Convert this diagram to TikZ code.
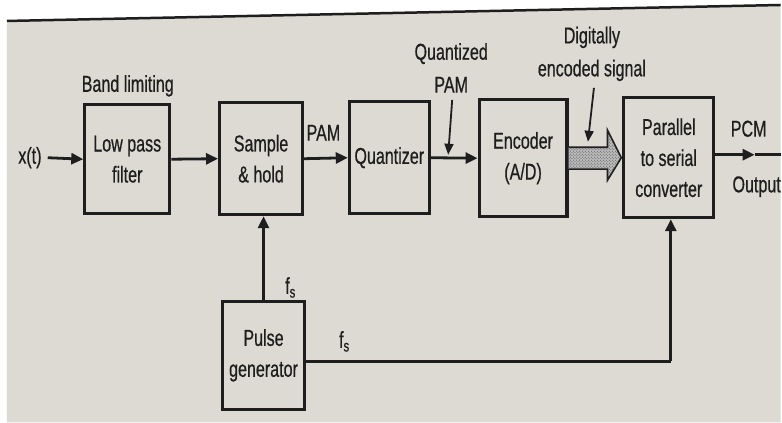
\documentclass[tikz,border=0pt]{standalone}
\usepackage{fontspec}
\setmainfont[FakeStretch=0.7,FakeBold=0.6]{Liberation Sans}
\usetikzlibrary{arrows.meta,patterns,calc}
\definecolor{paper}{RGB}{220,218,211}
\definecolor{ink}{RGB}{30,30,30}
\begin{document}
\begin{tikzpicture}[x=1pt,y=-1pt,
  blk/.style={draw=ink,line width=3.2pt,fill=paper,align=center,text=ink,
    font=\fontsize{23}{31}\selectfont,inner sep=0pt},
  lbl/.style={text=ink,align=center,font=\fontsize{23}{33}\selectfont,inner sep=0pt},
  wire/.style={draw=ink,line width=2.8pt},
  arr/.style={wire,-{Triangle[length=12pt,width=11pt]}},
  thin/.style={draw=ink,line width=1.8pt,-{Triangle[length=11pt,width=9pt]}}]
% page background
\fill[white] (0,0) rectangle (782,423);
\fill[paper] (7,21) -- (782,5) -- (782,423) -- (7,423) -- cycle;
\draw[ink,line width=2.5pt] (7,21) -- (782,5);
% blocks
\node[blk,minimum width=85pt,minimum height=109pt] (lpf) at (127.5,159.5) {Low pass\\filter};
\node[blk,minimum width=83pt,minimum height=112pt] (sh) at (261.5,159) {Sample\\\& hold};
\node[blk,minimum width=80pt,minimum height=112pt] (qz) at (390,158) {Quantizer};
\node[blk,minimum width=88pt,minimum height=117pt] (enc) at (524,158.5) {Encoder\\(A/D)};
\node[blk,minimum width=90pt,minimum height=120pt] (ps) at (670,158) {Parallel\\to serial\\converter};
\node[blk,minimum width=82pt,minimum height=108pt] (pg) at (264,356) {Pulse\\generator};
% labels
\node[lbl] (xt) at (30,158) {x(t)};
\node[lbl] (band) at (128,86) {Band limiting};
\node[lbl] (pam) at (324,133) {PAM};
\node[lbl] (qpam) at (452,68) {Quantized\\PAM};
\node[lbl] (dig) at (593,54) {Digitally\\encoded signal};
\node[lbl] (pcm) at (750,129) {PCM};
\node[lbl] (outl) at (758,187) {Output};
\node[lbl] (fs1) at (291,288) {f\textsubscript{s}};
\node[lbl] (fs2) at (345,342) {f\textsubscript{s}};
% connectors
\draw[arr] (xt.east) ++(6,0) -- (lpf.west);
\draw[arr] (lpf.east) -- (sh.west);
\draw[arr] (sh.east) -- (qz.west);
\draw[arr] (qz.east) -- (enc.west);
\coordinate (qs) at (453,100);
\coordinate (qe) at (449,155);
\draw[thin] (qs) -- (qe);
% hatched wide arrow
\path[fill=ink!30,postaction={pattern=crosshatch dots,pattern color=ink!80},draw=ink,line width=1.6pt]
  ($(enc.east)+(0,-11)$) -- ($(enc.east)+(39,-11)$) -- ($(enc.east)+(39,-28)$)
  -- ($(ps.west)+(-1,0)$) -- ($(enc.east)+(39,22)$) -- ($(enc.east)+(39,11)$)
  -- ($(enc.east)+(0,11)$);
\coordinate (ds) at (595,88);
\coordinate (de) at (589,142);
\draw[thin] (ds) -- (de);
% output
\coordinate (om) at (756,155);
\coordinate (oe) at (782,155);
\draw[arr] (ps.east |- om) -- (om);
\draw[wire] (om) -- (oe);
% clock lines
\draw[arr] (pg.north) -- (pg.north |- sh.south);
\coordinate (cr) at (672,362);
\draw[wire] (pg.east |- cr) -- (cr);
\draw[arr] (cr) -- (cr |- ps.south);
\end{tikzpicture}
\end{document}
